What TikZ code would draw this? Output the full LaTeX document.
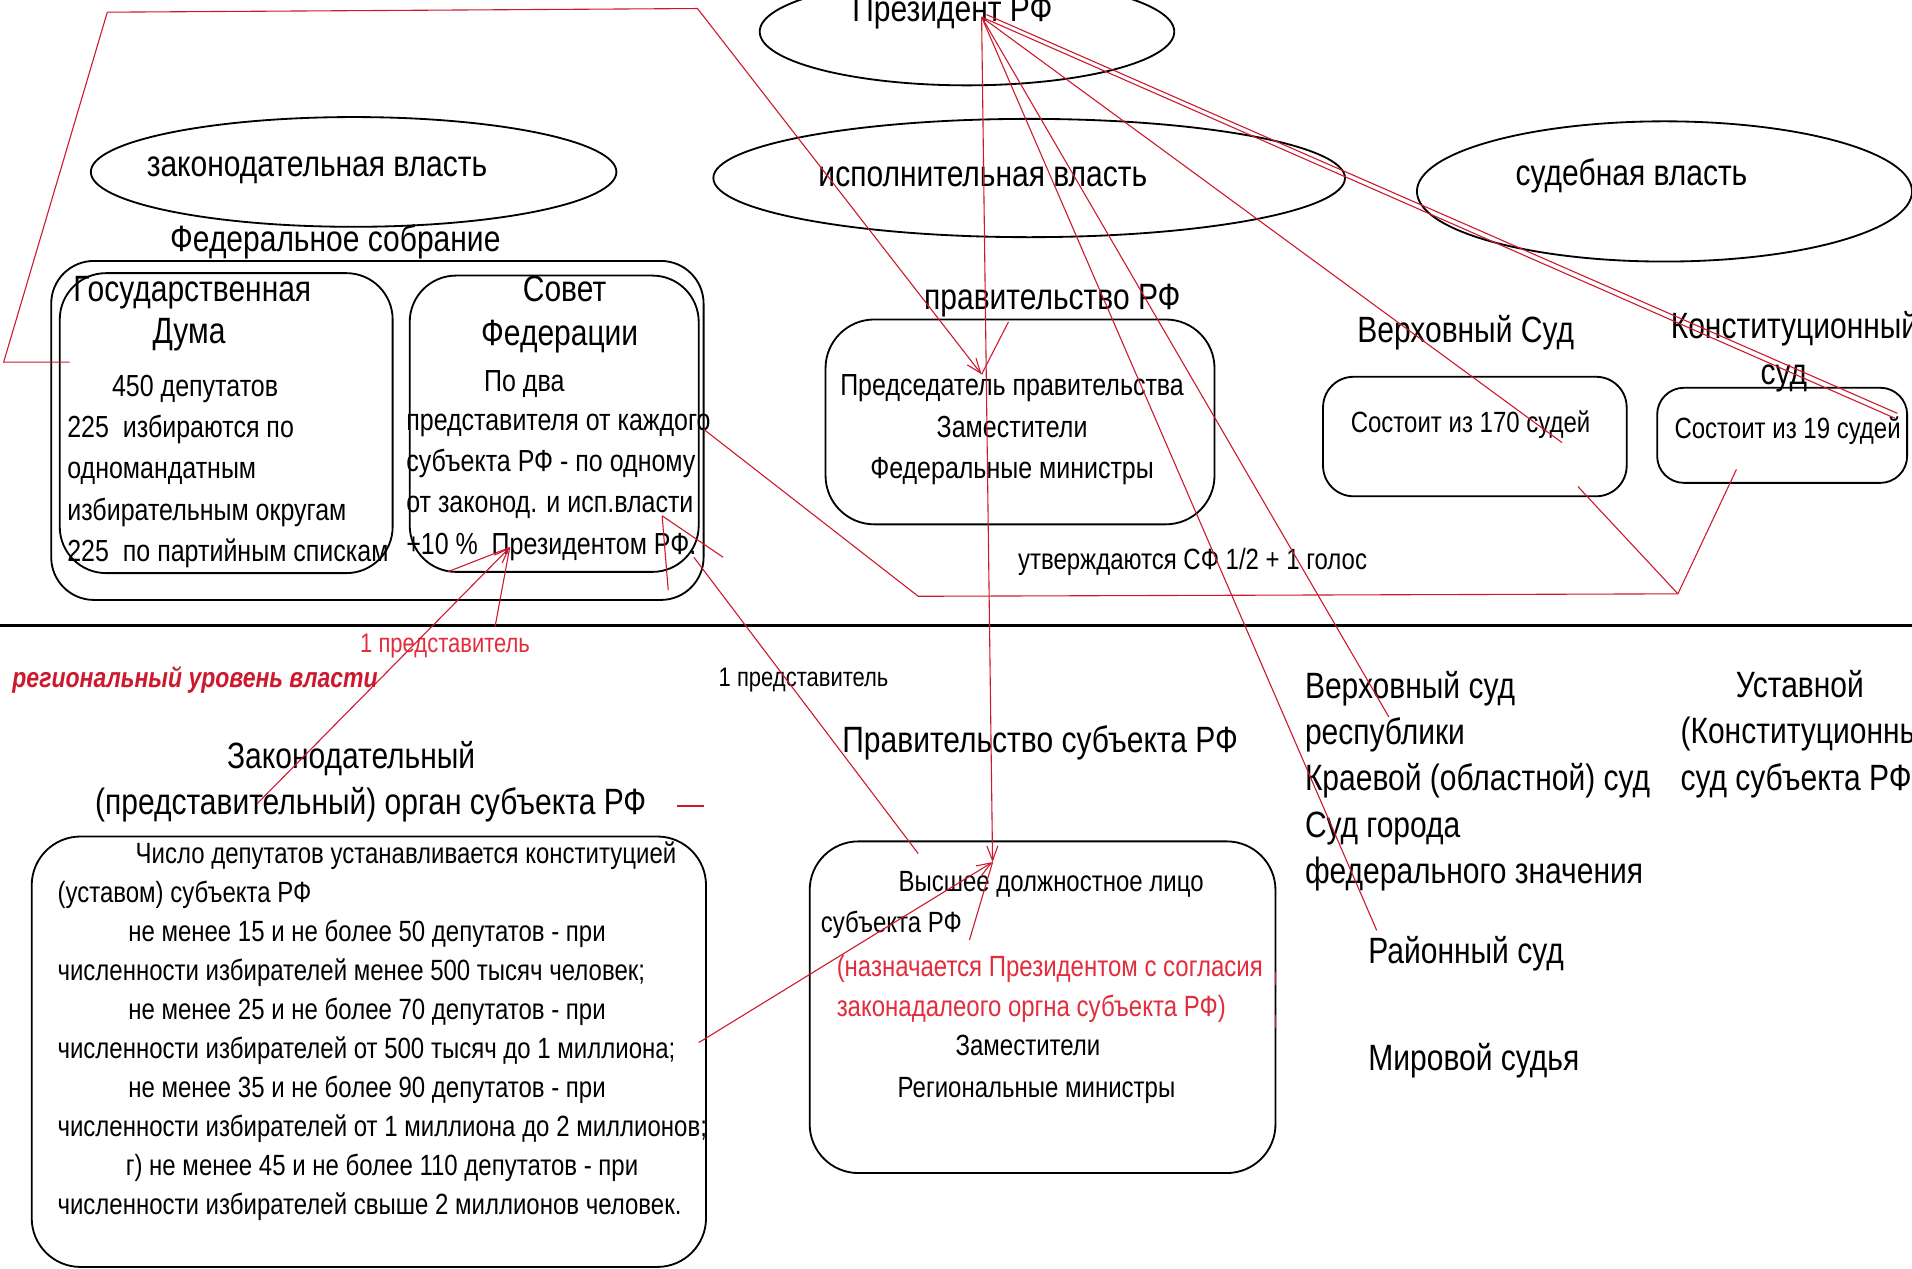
\documentclass[tikz,border=0pt]{standalone}
\usepackage{fontspec}
\setmainfont[FakeStretch=0.82]{Liberation Sans}
\usepackage{tikz}
\usetikzlibrary{arrows.meta,shapes.geometric}
\definecolor{redline}{RGB}{205,25,45}
\definecolor{redtext}{RGB}{225,45,60}

\begin{document}
\begin{tikzpicture}[x=1pt,y=-1pt,
  box/.style={draw,line width=1.5pt,rounded corners=#1,inner sep=0pt},
  oval/.style={draw,ellipse,line width=1.5pt,inner sep=0pt},
  txtbig/.style={inner sep=0pt,font=\fontsize{30}{37}\selectfont},
  txtmid/.style={inner sep=0pt,font=\fontsize{25}{34}\selectfont},
  txtsm/.style={inner sep=0pt,font=\fontsize{24}{32}\selectfont},
  link/.style={draw=redline,line width=0.9pt},
  tip/.style={-{Straight Barb[length=12pt,width=9pt]}}]
\useasboundingbox (0,0) rectangle (1568,1040);
\clip (0,0) rectangle (1568,1040);

% ветви власти
\node[oval,minimum width=340,minimum height=88]  (pres)  at (793,26)  {};
\node[oval,minimum width=431,minimum height=90]  (legis) at (290,141) {};
\node[oval,minimum width=518,minimum height=97]  (exec)  at (844,146) {};
\node[oval,minimum width=406,minimum height=115] (judic) at (1365,157) {};
\node[txtbig,anchor=base] (prest)  at (781,18)   {Президент РФ};
\node[txtbig,anchor=base] (legist) at (260,145)  {законодательная власть};
\node[txtbig,anchor=base] (exect)  at (806,153)  {исполнительная власть};
\node[txtbig,anchor=base] (judict) at (1338,152) {судебная власть};

% федеральный уровень
\node[txtbig,anchor=base] (fedsobt) at (275,206) {Федеральное собрание};
\node[box=35,minimum width=535,minimum height=278] (fedsob) at (309.5,353) {};
\node[box=38,minimum width=273,minimum height=246] (duma)   at (185.5,347) {};
\node[box=38,minimum width=237,minimum height=243] (sovfed) at (454.5,347.5) {};

\node[txtbig,anchor=base west] (dumat1) at (60,247)  {Государственная};
\node[txtbig,anchor=base]      (dumat2) at (155,282) {Дума};
\node[txtmid,anchor=base]      (dumat3) at (160,325) {450 депутатов};
\node[txtmid,anchor=north west,align=left] (dumatxt) at (55,340)
  {225\ \ избираются по\\одномандатным\\избирательным округам\\225\ \ по партийным спискам};

\node[txtbig,anchor=base] (sovt1) at (463,247) {Совет};
\node[txtbig,anchor=base] (sovt2) at (459,283) {Федерации};
\node[txtmid,anchor=base] (sovt3) at (430,321) {По два};
\node[txtmid,anchor=north west,align=left] (sovtxt) at (333,339)
  {представителя от каждого\\субъекта РФ - по одному\\от законод. и исп.власти\\+10 \%\ \ Президентом РФ.};

\node[txtbig,anchor=base] (govt) at (863,254) {правительство РФ};
\node[box=40,minimum width=319,minimum height=168] (govrf) at (836.5,346) {};
\node[txtmid,anchor=north,align=center] (govtxt) at (830,307)
  {Председатель правительства\\Заместители\\Федеральные министры};
\node[txtsm,anchor=base] (approve) at (978,467) {утверждаются СФ 1/2 + 1 голос};

\node[txtbig,anchor=base] (vst) at (1202,281) {Верховный Суд};
\node[box=25,minimum width=249,minimum height=98] (vsbox) at (1209.5,358) {};
\node[txtsm,anchor=base] (vstxt) at (1206,355) {Состоит из 170 судей};
\node[txtbig,anchor=base west] (kst1) at (1370,278) {Конституционный};
\node[txtbig,anchor=base] (kst2) at (1463,315) {суд};
\node[box=22,minimum width=205,minimum height=78] (ksbox) at (1461.5,357) {};
\node[txtsm,anchor=base] (kstxt) at (1466,360) {Состоит из 19 судей};

\draw[line width=2pt] (0,513) -- (1568,513);

% региональный уровень
\node[txtsm,anchor=base,text=redtext,font=\fontsize{22}{28}\selectfont] (rep1) at (365,535) {1 представитель};
\node[anchor=base west,inner sep=0pt,text=redline,font=\fontsize{23}{28}\selectfont\bfseries\itshape] (region) at (10,564) {региональный уровень власти};
\node[anchor=base,inner sep=0pt,font=\fontsize{22}{28}\selectfont] (rep2) at (659,563) {1 представитель};

\node[txtbig,anchor=base] (zakt1) at (288,630) {Законодательный};
\node[txtbig,anchor=base] (zakt2) at (304,668) {(представительный) орган субъекта РФ};
\node[box=40,minimum width=553,minimum height=353] (zakbox) at (302.5,862.5) {};
\node[txtsm,anchor=north west,align=left] (zaktxt) at (47,690)
  {\hspace*{64pt}Число депутатов устанавливается конституцией\\
   (уставом) субъекта РФ\\
   \hspace*{58pt}не менее 15 и не более 50 депутатов - при\\
   численности избирателей менее 500 тысяч человек;\\
   \hspace*{58pt}не менее 25 и не более 70 депутатов - при\\
   численности избирателей от 500 тысяч до 1 миллиона;\\
   \hspace*{58pt}не менее 35 и не более 90 депутатов - при\\
   численности избирателей от 1 миллиона до 2 миллионов;\\
   \hspace*{56pt}г) не менее 45 и не более 110 депутатов - при\\
   численности избирателей свыше 2 миллионов человек.};

\node[txtbig,anchor=base] (rgovt) at (853,617) {Правительство субъекта РФ};
\node[box=40,minimum width=382,minimum height=272] (vdlbox) at (855,826) {};
\node[txtsm,anchor=base] (vdl1) at (862,731) {Высшее должностное лицо};
\node[txtsm,anchor=base west] (vdl2) at (673,765) {субъекта РФ};
\node[txtsm,anchor=base west,text=redtext] (vdl3) at (686,801) {(назначается Президентом с согласия};
\node[txtsm,anchor=base west,text=redtext] (vdl4) at (686,834) {законадалеого оргна субъекта РФ)};
\node[txtsm,anchor=base] (vdl5) at (843,866) {Заместители};
\node[txtsm,anchor=base] (vdl6) at (850,900) {Региональные министры};

\node[txtbig,anchor=north west,align=left,font=\fontsize{30}{38}\selectfont] (courts) at (1070,550)
  {Верховный суд\\республики\\Краевой (областной) суд\\Суд города\\федерального значения};
\node[txtbig,anchor=base west] (rayon)  at (1122,790) {Районный суд};
\node[txtbig,anchor=base west] (mirov)  at (1122,878) {Мировой судья};
\node[txtbig,anchor=base]      (ustav1) at (1476,572) {Уставной};
\node[txtbig,anchor=base west] (ustav2) at (1378,610) {(Конституционный)};
\node[txtbig,anchor=base west] (ustav3) at (1378,648) {суд субъекта РФ};

% красные связи
\coordinate (ptop)   at (805,14);
\coordinate (pvdl)   at (814,707);
\coordinate (prayon) at (1129,763);
\coordinate (presp)  at (1139,588);
\coordinate (pvs)    at (1281,363);
\coordinate (pks)    at (1554,343);
\coordinate (pred)   at (805,307);
\coordinate (dumaL)  at (57,297);
\coordinate (sovR)   at (577,352);
\coordinate (vote)   at (1376,487);
\coordinate (plus10) at (418,449);
\coordinate (vlast)  at (543,423);
\coordinate (sovRF)  at (569,457);

\draw[link,tip] (ptop) -- (pvdl);
\draw[link] (ptop) -- (prayon);
\draw[link] (ptop) -- (presp);
\draw[link] (ptop) -- (pvs);
\draw[link] (ptop) -- (pks);
\draw[link] (809,12) -- (1556,339);
\draw[link,tip] (dumaL) -- (3,297) -- (88,10) -- (572,7) -- (pred);
\draw[link] (827,264) -- (pred);
\draw[link] (sovR) -- (753,489) -- (vote);
\draw[link] (vote) -- (1294,399);
\draw[link] (vote) -- (1424,385);
\draw[link,tip] (211,659) -- (plus10);
\draw[link] (406,514) -- (plus10);
\draw[link] (367,469) -- (plus10);
\draw[link] (753,700) -- (sovRF);
\draw[link] (vlast) -- (593,457);
\draw[link] (vlast) -- (548,484);
\draw[link,tip] (573,855) -- (pvdl);
\draw[link] (795,771) -- (pvdl);
\draw[redline,line width=1.5pt] (555,661) -- (577,661);
\draw[redline,line width=1.5pt] (1046,797) -- (1046,808) (1046,832) -- (1046,843);
\end{tikzpicture}
\end{document}
